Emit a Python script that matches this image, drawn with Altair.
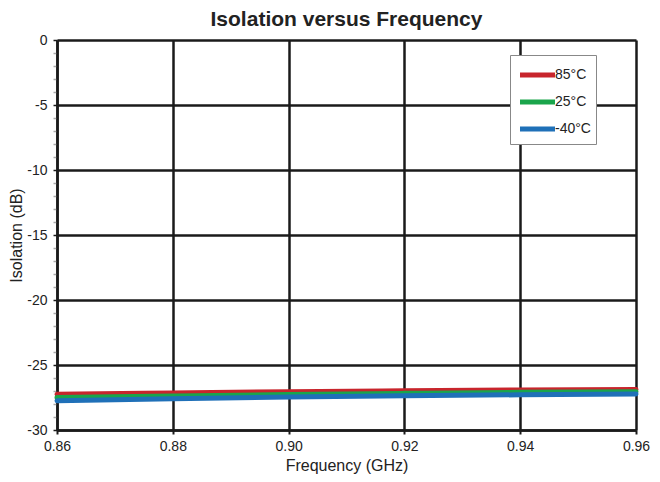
import altair as alt
import pandas as pd

freq = [0.86, 0.88, 0.90, 0.92, 0.94, 0.96]
iso_85 = [-27.25, -27.15, -27.05, -26.98, -26.92, -26.88]
iso_25 = [-27.50, -27.38, -27.27, -27.18, -27.10, -27.05]
iso_m40 = [-27.75, -27.60, -27.47, -27.37, -27.29, -27.23]
series = ["85°C", "25°C", "-40°C"]
colors = ["#c8252c", "#1aa54b", "#1f70b8"]
x_ticks = [0.86, 0.88, 0.90, 0.92, 0.94, 0.96]
y_ticks = list(range(-30, 1))

rows = []
for name, vals in zip(series, [iso_85, iso_25, iso_m40]):
    for f, v in zip(freq, vals):
        rows.append({"Frequency": f, "Isolation": v, "Temp": name})
df = pd.DataFrame(rows)

FONT = "Liberation Sans"

chart = alt.Chart(df).mark_line(strokeWidth=5, interpolate="monotone", strokeCap="round").encode(
    x=alt.X("Frequency:Q", scale=alt.Scale(domain=[0.86, 0.96], nice=False, zero=False),
            axis=alt.Axis(title="Frequency (GHz)", values=x_ticks, format=".2f",
                          grid=True, gridColor="#1a1a1a", gridWidth=2.5,
                          domainColor="#1a1a1a", domainWidth=2.5,
                          tickColor="#1a1a1a", tickSize=4, tickWidth=2,
                          labelFlush=False,
                          labelFont=FONT, labelFontSize=14, labelColor="#222",
                          titleFont=FONT, titleFontSize=16, titleFontWeight="normal",
                          titleColor="#222", labelPadding=5, titlePadding=4)),
    y=alt.Y("Isolation:Q", scale=alt.Scale(domain=[-30, 0], nice=False),
            axis=alt.Axis(title="Isolation (dB)", values=y_ticks,
                          labelExpr="datum.value % 5 == 0 ? replace(datum.label, '\u2212', '-') : ''",
                          grid=True,
                          gridColor={"condition": {"test": "datum.value % 5 == 0", "value": "#1a1a1a"},
                                     "value": "rgba(0,0,0,0)"},
                          gridWidth=2.5,
                          domainColor="#1a1a1a", domainWidth=2.5,
                          tickColor={"condition": {"test": "datum.value % 5 == 0", "value": "#1a1a1a"},
                                     "value": "#aaaaaa"},
                          tickSize=4, tickWidth=1.5, labelFlush=False,
                          labelFont=FONT, labelFontSize=14, labelColor="#222",
                          titleFont=FONT, titleFontSize=16, titleFontWeight="normal",
                          titleColor="#222", labelPadding=6, titlePadding=2)),
    color=alt.Color("Temp:N", scale=alt.Scale(domain=series, range=colors),
                    legend=alt.Legend(title=None, orient="none", legendX=453, legendY=15,
                                      symbolType="M-0.8,0H2", symbolStrokeWidth=5, symbolSize=625,
                                      labelFont=FONT, labelFontSize=14, labelColor="#222",
                                      fillColor="white", strokeColor="#888", padding=5,
                                      rowPadding=2, labelOffset=10)),
).properties(
    width=579, height=390,
    autosize=alt.AutoSizeParams(type="none"),
    padding={"left": 49, "top": 32, "right": 16, "bottom": 44},
    title=alt.TitleParams("Isolation versus Frequency", font=FONT, fontSize=21,
                          fontWeight="bold", color="#222", anchor="middle", offset=3),
).configure_view(stroke="#1a1a1a", strokeWidth=2.5).configure(background="white")

chart.save("out.html", embed_options={"renderer": "svg", "actions": False})
